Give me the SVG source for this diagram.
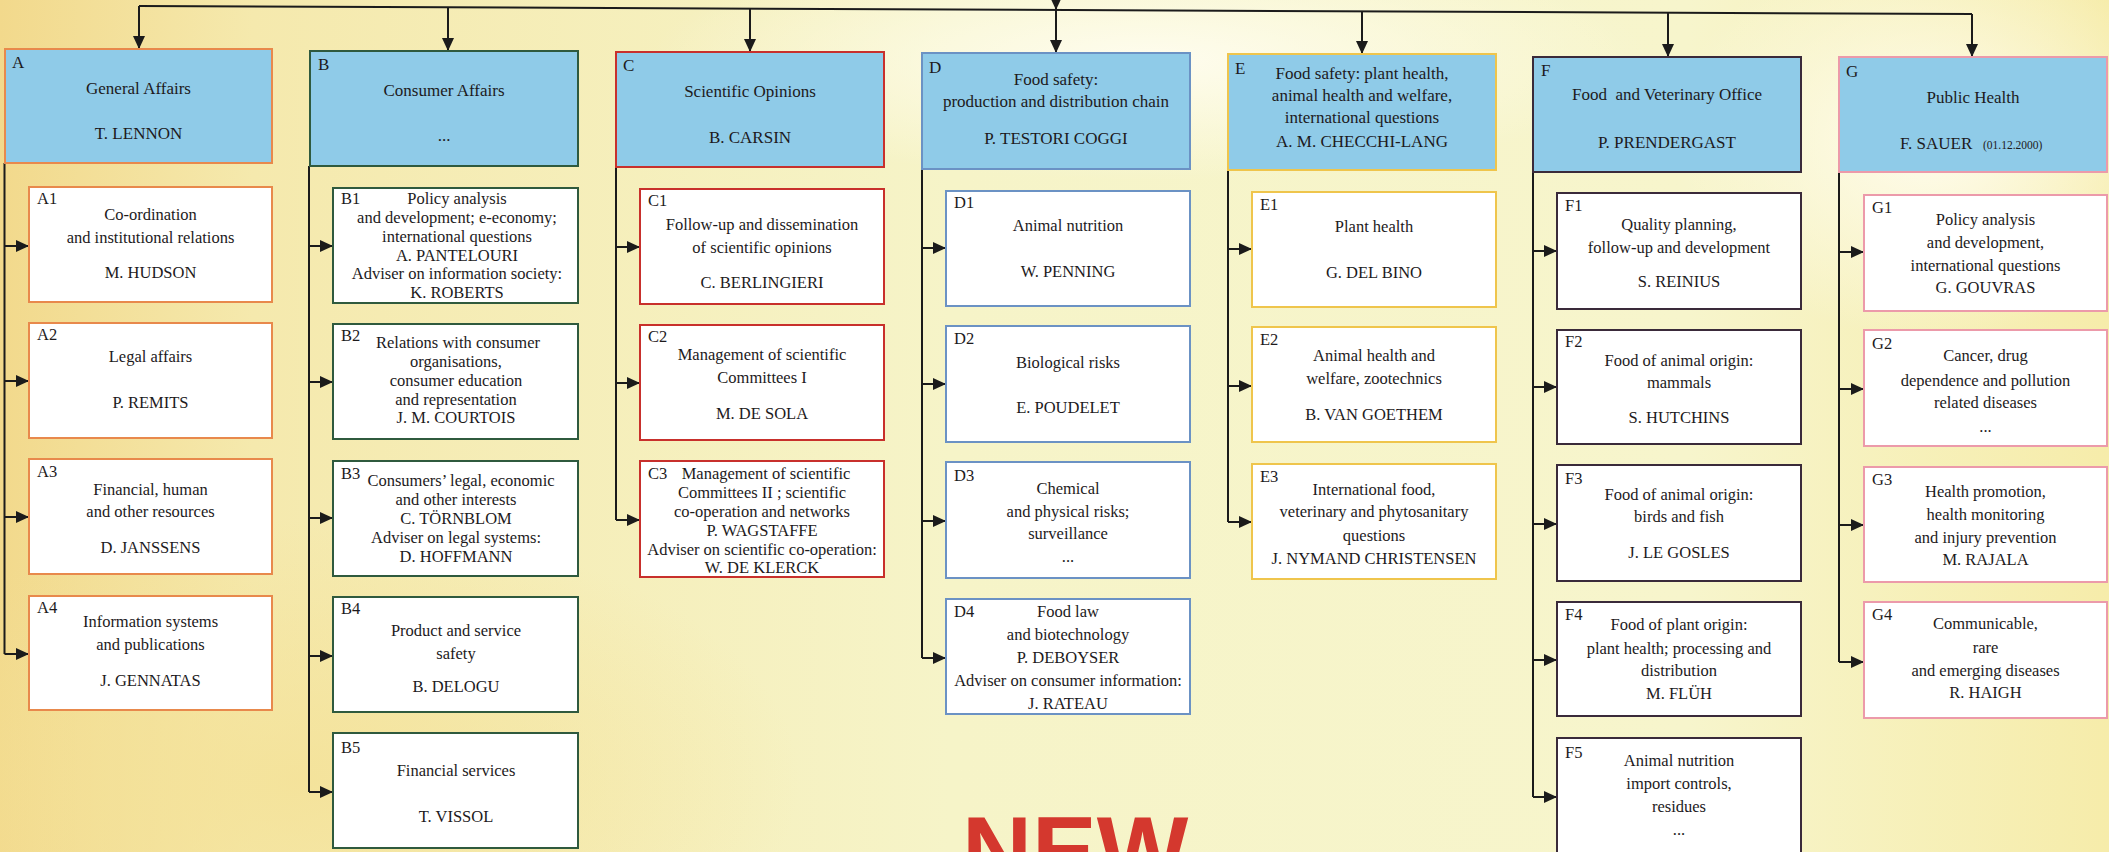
<svg xmlns="http://www.w3.org/2000/svg" width="2109" height="852" viewBox="0 0 2109 852">
<defs>
<style>
text{font-family:"Liberation Serif","Times New Roman",serif;font-size:16.5px;fill:#1d1a1c}
.m{text-anchor:middle}
.ht{font-size:17px}
.sm{font-size:11.5px}
.pre{white-space:pre}
.c{stroke:#1b1b1b;stroke-width:2;fill:none}
.a{stroke:#1b1b1b;stroke-width:2;fill:none;marker-end:url(#ah)}
.h{fill:#8fcbe8;stroke-width:2}
.b{fill:#ffffff;stroke-width:2}
.sA{stroke:#e8894c}
.sB{stroke:#2f5a3e}
.sC{stroke:#c8302c}
.sD{stroke:#6b92c4}
.sE{stroke:#efc54c}
.sF{stroke:#3a2a3a}
.sG{stroke:#ec9aaa}
.new{font-family:"Liberation Sans",Arial,sans-serif;font-weight:bold;font-size:97px;fill:#d4382e}
</style>
<marker id="ah" viewBox="0 0 13 12" refX="13" refY="6" markerWidth="13" markerHeight="12" markerUnits="userSpaceOnUse" orient="auto">
<path d="M0,0 L13,6 L0,12 z" fill="#1b1b1b"/>
</marker>
<linearGradient id="gx" x1="0" y1="0" x2="1" y2="0">
<stop offset="0" stop-color="#f2d98c"/>
<stop offset="0.12" stop-color="#f5e9ad"/>
<stop offset="0.45" stop-color="#f6f4c8"/>
<stop offset="0.8" stop-color="#f7f5cc"/>
<stop offset="1" stop-color="#f6ecaa"/>
</linearGradient>
<radialGradient id="gw" cx="0.5" cy="0.5" r="0.5">
<stop offset="0" stop-color="#fffdf0" stop-opacity="0.95"/>
<stop offset="1" stop-color="#fffdf0" stop-opacity="0"/>
</radialGradient>
<radialGradient id="gy" cx="0.5" cy="0.5" r="0.5">
<stop offset="0" stop-color="#f4e196" stop-opacity="0.8"/>
<stop offset="1" stop-color="#f4e196" stop-opacity="0"/>
</radialGradient>
</defs>

<g id="background">
<rect x="0" y="0" width="2109" height="852" fill="url(#gx)"/>
<ellipse cx="300" cy="780" rx="500" ry="260" fill="url(#gy)"/>
<ellipse cx="1930" cy="140" rx="260" ry="200" fill="url(#gw)"/>
<ellipse cx="1150" cy="60" rx="500" ry="120" fill="url(#gw)"/>
</g>

<g id="connectors">
<path class="a" d="M1056,-14 V10"/>
<path class="c" d="M139,6 L1972,14"/>
<path class="a" d="M139,6 V49"/>
<path class="a" d="M448,7.3 V51"/>
<path class="a" d="M750,8.6 V52"/>
<path class="a" d="M1056,10 V53"/>
<path class="a" d="M1362,11.3 V54"/>
<path class="a" d="M1668,12.7 V57"/>
<path class="a" d="M1972,14 V57"/>

<path class="c" d="M4.5,163 V654"/>
<path class="a" d="M4.5,246 H29"/>
<path class="a" d="M4.5,381 H29"/>
<path class="a" d="M4.5,517 H29"/>
<path class="a" d="M4.5,654 H29"/>

<path class="c" d="M309,166 V792"/>
<path class="a" d="M309,246 H333"/>
<path class="a" d="M309,382 H333"/>
<path class="a" d="M309,518 H333"/>
<path class="a" d="M309,656 H333"/>
<path class="a" d="M309,792 H333"/>

<path class="c" d="M616,167 V520"/>
<path class="a" d="M616,247 H640"/>
<path class="a" d="M616,383 H640"/>
<path class="a" d="M616,520 H640"/>

<path class="c" d="M922,169 V658"/>
<path class="a" d="M922,248 H946"/>
<path class="a" d="M922,384 H946"/>
<path class="a" d="M922,521 H946"/>
<path class="a" d="M922,658 H946"/>

<path class="c" d="M1228,170 V522"/>
<path class="a" d="M1228,249 H1252"/>
<path class="a" d="M1228,386 H1252"/>
<path class="a" d="M1228,522 H1252"/>

<path class="c" d="M1533,172 V797"/>
<path class="a" d="M1533,251 H1557"/>
<path class="a" d="M1533,387 H1557"/>
<path class="a" d="M1533,524 H1557"/>
<path class="a" d="M1533,660 H1557"/>
<path class="a" d="M1533,797 H1557"/>

<path class="c" d="M1839,173 V662"/>
<path class="a" d="M1839,252 H1864"/>
<path class="a" d="M1839,389 H1864"/>
<path class="a" d="M1839,525 H1864"/>
<path class="a" d="M1839,662 H1864"/>
</g>

<!-- Column A -->
<g id="A">
<rect class="h sA" x="5" y="49" width="267" height="114"/>
<text x="12" y="68" class="ht">A</text>
<text class="m ht" x="138.5" y="94">General Affairs</text>
<text class="m ht" x="138.5" y="139">T. LENNON</text>
</g>
<g id="A1">
<rect class="b sA" x="29" y="187" width="243" height="115"/>
<text x="37" y="204">A1</text>
<text class="m" x="150.5" y="220">Co-ordination</text>
<text class="m" x="150.5" y="243">and institutional relations</text>
<text class="m" x="150.5" y="278">M. HUDSON</text>
</g>
<g id="A2">
<rect class="b sA" x="29" y="323" width="243" height="115"/>
<text x="37" y="340">A2</text>
<text class="m" x="150.5" y="362">Legal affairs</text>
<text class="m" x="150.5" y="408">P. REMITS</text>
</g>
<g id="A3">
<rect class="b sA" x="29" y="459" width="243" height="115"/>
<text x="37" y="477">A3</text>
<text class="m" x="150.5" y="495">Financial, human</text>
<text class="m" x="150.5" y="517">and other resources</text>
<text class="m" x="150.5" y="553">D. JANSSENS</text>
</g>
<g id="A4">
<rect class="b sA" x="29" y="596" width="243" height="114"/>
<text x="37" y="613">A4</text>
<text class="m" x="150.5" y="627">Information systems</text>
<text class="m" x="150.5" y="650">and publications</text>
<text class="m" x="150.5" y="686">J. GENNATAS</text>
</g>

<!-- Column B -->
<g id="B">
<rect class="h sB" x="310" y="51" width="268" height="115"/>
<text x="318" y="70" class="ht">B</text>
<text class="m ht" x="444" y="96">Consumer Affairs</text>
<text class="m ht" x="444" y="141">...</text>
</g>
<g id="B1">
<rect class="b sB" x="333" y="188" width="245" height="115"/>
<text x="341" y="204">B1</text>
<text class="m" x="457" y="204">Policy analysis</text>
<text class="m" x="457" y="223">and development; e-economy;</text>
<text class="m" x="457" y="242">international questions</text>
<text class="m" x="457" y="261">A. PANTELOURI</text>
<text class="m" x="457" y="279">Adviser on information society:</text>
<text class="m" x="457" y="298">K. ROBERTS</text>
</g>
<g id="B2">
<rect class="b sB" x="333" y="324" width="245" height="115"/>
<text x="341" y="341">B2</text>
<text class="m" x="458" y="348">Relations with consumer</text>
<text class="m" x="456" y="367">organisations,</text>
<text class="m" x="456" y="386">consumer education</text>
<text class="m" x="456" y="405">and representation</text>
<text class="m" x="456" y="423">J. M. COURTOIS</text>
</g>
<g id="B3">
<rect class="b sB" x="333" y="461" width="245" height="115"/>
<text x="341" y="479">B3</text>
<text class="m" x="461" y="486">Consumers’ legal, economic</text>
<text class="m" x="456" y="505">and other interests</text>
<text class="m" x="456" y="524">C. TÖRNBLOM</text>
<text class="m" x="456" y="543">Adviser on legal systems:</text>
<text class="m" x="456" y="562">D. HOFFMANN</text>
</g>
<g id="B4">
<rect class="b sB" x="333" y="597" width="245" height="115"/>
<text x="341" y="614">B4</text>
<text class="m" x="456" y="636">Product and service</text>
<text class="m" x="456" y="659">safety</text>
<text class="m" x="456" y="692">B. DELOGU</text>
</g>
<g id="B5">
<rect class="b sB" x="333" y="733" width="245" height="115"/>
<text x="341" y="753">B5</text>
<text class="m" x="456" y="776">Financial services</text>
<text class="m" x="456" y="822">T. VISSOL</text>
</g>

<!-- Column C -->
<g id="C">
<rect class="h sC" x="616" y="52" width="268" height="115"/>
<text x="623" y="71" class="ht">C</text>
<text class="m ht" x="750" y="97">Scientific Opinions</text>
<text class="m ht" x="750" y="143">B. CARSIN</text>
</g>
<g id="C1">
<rect class="b sC" x="640" y="189" width="244" height="115"/>
<text x="648" y="206">C1</text>
<text class="m" x="762" y="230">Follow-up and dissemination</text>
<text class="m" x="762" y="253">of scientific opinions</text>
<text class="m" x="762" y="288">C. BERLINGIERI</text>
</g>
<g id="C2">
<rect class="b sC" x="640" y="325" width="244" height="115"/>
<text x="648" y="342">C2</text>
<text class="m" x="762" y="360">Management of scientific</text>
<text class="m" x="762" y="383">Committees I</text>
<text class="m" x="762" y="419">M. DE SOLA</text>
</g>
<g id="C3">
<rect class="b sC" x="640" y="461" width="244" height="116"/>
<text x="648" y="479">C3</text>
<text class="m" x="766" y="479">Management of scientific</text>
<text class="m" x="762" y="498">Committees II ; scientific</text>
<text class="m" x="762" y="517">co-operation and networks</text>
<text class="m" x="762" y="536">P. WAGSTAFFE</text>
<text class="m" x="762" y="555">Adviser on scientific co-operation:</text>
<text class="m" x="762" y="573">W. DE KLERCK</text>
</g>

<!-- Column D -->
<g id="D">
<rect class="h sD" x="922" y="53" width="268" height="116"/>
<text x="929" y="73" class="ht">D</text>
<text class="m ht" x="1056" y="85">Food safety:</text>
<text class="m ht" x="1056" y="107">production and distribution chain</text>
<text class="m ht" x="1056" y="144">P. TESTORI COGGI</text>
</g>
<g id="D1">
<rect class="b sD" x="946" y="191" width="244" height="115"/>
<text x="954" y="208">D1</text>
<text class="m" x="1068" y="231">Animal nutrition</text>
<text class="m" x="1068" y="277">W. PENNING</text>
</g>
<g id="D2">
<rect class="b sD" x="946" y="326" width="244" height="116"/>
<text x="954" y="344">D2</text>
<text class="m" x="1068" y="368">Biological risks</text>
<text class="m" x="1068" y="413">E. POUDELET</text>
</g>
<g id="D3">
<rect class="b sD" x="946" y="462" width="244" height="116"/>
<text x="954" y="481">D3</text>
<text class="m" x="1068" y="494">Chemical</text>
<text class="m" x="1068" y="517">and physical risks;</text>
<text class="m" x="1068" y="539">surveillance</text>
<text class="m" x="1068" y="562">...</text>
</g>
<g id="D4">
<rect class="b sD" x="946" y="599" width="244" height="115"/>
<text x="954" y="617">D4</text>
<text class="m" x="1068" y="617">Food law</text>
<text class="m" x="1068" y="640">and biotechnology</text>
<text class="m" x="1068" y="663">P. DEBOYSER</text>
<text class="m" x="1068" y="686">Adviser on consumer information:</text>
<text class="m" x="1068" y="709">J. RATEAU</text>
</g>

<!-- Column E -->
<g id="E">
<rect class="h sE" x="1228" y="54" width="268" height="116"/>
<text x="1235" y="74" class="ht">E</text>
<text class="m ht" x="1362" y="79">Food safety: plant health,</text>
<text class="m ht" x="1362" y="101">animal health and welfare,</text>
<text class="m ht" x="1362" y="123">international questions</text>
<text class="m ht" x="1362" y="147">A. M. CHECCHI-LANG</text>
</g>
<g id="E1">
<rect class="b sE" x="1252" y="192" width="244" height="115"/>
<text x="1260" y="210">E1</text>
<text class="m" x="1374" y="232">Plant health</text>
<text class="m" x="1374" y="278">G. DEL BINO</text>
</g>
<g id="E2">
<rect class="b sE" x="1252" y="327" width="244" height="115"/>
<text x="1260" y="345">E2</text>
<text class="m" x="1374" y="361">Animal health and</text>
<text class="m" x="1374" y="384">welfare, zootechnics</text>
<text class="m" x="1374" y="420">B. VAN GOETHEM</text>
</g>
<g id="E3">
<rect class="b sE" x="1252" y="464" width="244" height="115"/>
<text x="1260" y="482">E3</text>
<text class="m" x="1374" y="495">International food,</text>
<text class="m" x="1374" y="517">veterinary and phytosanitary</text>
<text class="m" x="1374" y="541">questions</text>
<text class="m" x="1374" y="564">J. NYMAND CHRISTENSEN</text>
</g>

<!-- Column F -->
<g id="F">
<rect class="h sF" x="1533" y="57" width="268" height="115"/>
<text x="1541" y="76" class="ht">F</text>
<text class="m ht pre" x="1667" y="100">Food  and Veterinary Office</text>
<text class="m ht" x="1667" y="148">P. PRENDERGAST</text>
</g>
<g id="F1">
<rect class="b sF" x="1557" y="193" width="244" height="116"/>
<text x="1565" y="211">F1</text>
<text class="m" x="1679" y="230">Quality planning,</text>
<text class="m" x="1679" y="253">follow-up and development</text>
<text class="m" x="1679" y="287">S. REINIUS</text>
</g>
<g id="F2">
<rect class="b sF" x="1557" y="330" width="244" height="114"/>
<text x="1565" y="347">F2</text>
<text class="m" x="1679" y="366">Food of animal origin:</text>
<text class="m" x="1679" y="388">mammals</text>
<text class="m" x="1679" y="423">S. HUTCHINS</text>
</g>
<g id="F3">
<rect class="b sF" x="1557" y="465" width="244" height="116"/>
<text x="1565" y="484">F3</text>
<text class="m" x="1679" y="500">Food of animal origin:</text>
<text class="m" x="1679" y="522">birds and fish</text>
<text class="m" x="1679" y="558">J. LE GOSLES</text>
</g>
<g id="F4">
<rect class="b sF" x="1557" y="602" width="244" height="114"/>
<text x="1565" y="620">F4</text>
<text class="m" x="1679" y="630">Food of plant origin:</text>
<text class="m" x="1679" y="654">plant health; processing and</text>
<text class="m" x="1679" y="676">distribution</text>
<text class="m" x="1679" y="699">M. FLÜH</text>
</g>
<g id="F5">
<rect class="b sF" x="1557" y="738" width="244" height="116"/>
<text x="1565" y="758">F5</text>
<text class="m" x="1679" y="766">Animal nutrition</text>
<text class="m" x="1679" y="789">import controls,</text>
<text class="m" x="1679" y="812">residues</text>
<text class="m" x="1679" y="835">...</text>
</g>

<!-- Column G -->
<g id="G">
<rect class="h sG" x="1839" y="57" width="268" height="115"/>
<text x="1846" y="77" class="ht">G</text>
<text class="m ht" x="1973" y="103">Public Health</text>
<text class="ht" x="1900" y="149">F. SAUER</text>
<text class="sm" x="1983" y="149">(01.12.2000)</text>
</g>
<g id="G1">
<rect class="b sG" x="1864" y="195" width="243" height="116"/>
<text x="1872" y="213">G1</text>
<text class="m" x="1985.5" y="225">Policy analysis</text>
<text class="m" x="1985.5" y="248">and development,</text>
<text class="m" x="1985.5" y="271">international questions</text>
<text class="m" x="1985.5" y="293">G. GOUVRAS</text>
</g>
<g id="G2">
<rect class="b sG" x="1864" y="330" width="243" height="116"/>
<text x="1872" y="349">G2</text>
<text class="m" x="1985.5" y="361">Cancer, drug</text>
<text class="m" x="1985.5" y="386">dependence and pollution</text>
<text class="m" x="1985.5" y="408">related diseases</text>
<text class="m" x="1985.5" y="432">...</text>
</g>
<g id="G3">
<rect class="b sG" x="1864" y="467" width="243" height="115"/>
<text x="1872" y="485">G3</text>
<text class="m" x="1985.5" y="497">Health promotion,</text>
<text class="m" x="1985.5" y="520">health monitoring</text>
<text class="m" x="1985.5" y="543">and injury prevention</text>
<text class="m" x="1985.5" y="565">M. RAJALA</text>
</g>
<g id="G4">
<rect class="b sG" x="1864" y="602" width="243" height="116"/>
<text x="1872" y="620">G4</text>
<text class="m" x="1985.5" y="629">Communicable,</text>
<text class="m" x="1985.5" y="653">rare</text>
<text class="m" x="1985.5" y="676">and emerging diseases</text>
<text class="m" x="1985.5" y="698">R. HAIGH</text>
</g>

<text class="new" x="962" y="884">NEW</text>
</svg>
